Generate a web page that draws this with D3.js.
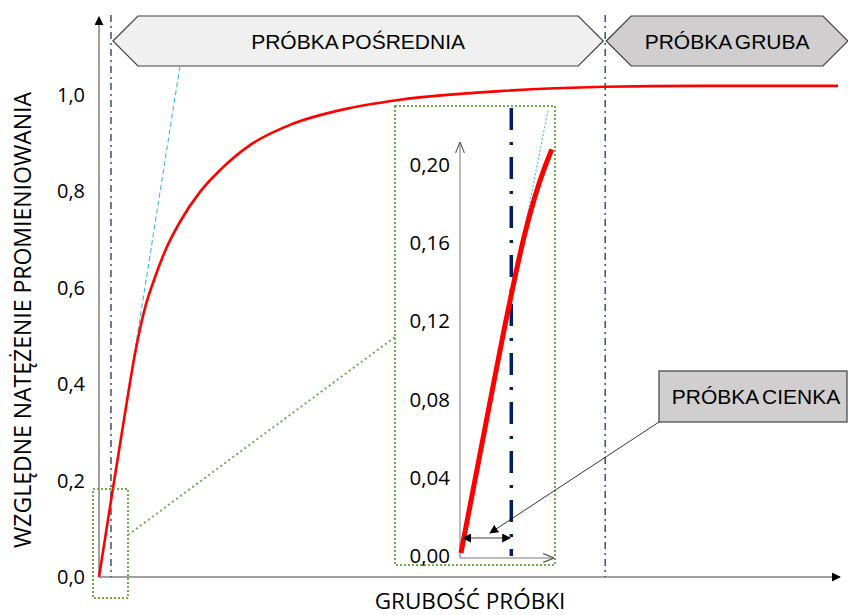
<html>
<head>
<meta charset="utf-8">
<style>
  body { margin: 0; background: white; }
  svg { display: block; }
  .tick text { font-family: "Open Sans", Lato, sans-serif; }
</style>
</head>
<body>
<svg id="chart" width="848" height="615"></svg>
<script src="https://cdn.jsdelivr.net/npm/d3@7"></script>
<script>
// main curve: relative intensity vs thickness (arbitrary units 0..100)
const thickness = [0, 1.62, 3.52, 4.87, 6.22, 7.58, 8.93, 10.96, 13.67, 16.37, 20.43, 25.85, 33.96, 40.73, 54.26, 68.47, 81.33, 100]
const intensity = [0, 0.158, 0.34, 0.463, 0.558, 0.622, 0.676, 0.737, 0.799, 0.844, 0.896, 0.938, 0.973, 0.99, 1.008, 1.017, 1.019, 1.019]
const tangent = [[0, 0], [10.96, 1.06]]
const boundaries = [1.62, 68.5]
const yTicks = [0, 0.2, 0.4, 0.6, 0.8, 1.0]

// zoomed inset (thin sample)
const insetThickness = [0.03, 0.85, 1.42, 1.74, 2.05, 2.37, 2.68, 2.9]
const insetIntensity = [0.0015, 0.0706, 0.118, 0.143, 0.165, 0.184, 0.199, 0.208]
const insetTangent = [[0, 0], [2.78, 0.228]]
const insetTicks = [0, 0.04, 0.08, 0.12, 0.16, 0.20]

const labels = {
  mid: "PRÓBKA POŚREDNIA",
  thick: "PRÓBKA GRUBA",
  thin: "PRÓBKA CIENKA",
  x: "GRUBOŚĆ PRÓBKI",
  y: "WZGLĘDNE NATĘŻENIE PROMIENIOWANIA"
}

let svg = d3.select("#chart")
let defs = svg.append("defs")

function marker(id, filled, color) {
  let m = defs.append("marker").attr("id", id)
    .attr("viewBox", "0 0 10 10").attr("refX", 9).attr("refY", 5)
    .attr("markerUnits", "userSpaceOnUse")
    .attr("markerWidth", filled ? 9 : 11).attr("markerHeight", filled ? 9 : 11)
    .attr("orient", "auto-start-reverse")
  if (filled) m.append("path").attr("d", "M0,0L10,5L0,10Z").attr("fill", color)
  else m.append("path").attr("d", "M0,1L10,5L0,9").attr("fill", "none").attr("stroke", color).attr("stroke-width", 1)
}
marker("arrowFill", true, "#000")
marker("arrowOpen", false, "#555")

let x = d3.scaleLinear().domain([0, 100]).range([99, 838])
let y = d3.scaleLinear().domain([0, 1]).range([577, 95])

let fmt = d => d3.format(".1f")(d).replace(".", ",")
let fmt2 = d => d3.format(".2f")(d).replace(".", ",")

// axes
svg.append("line").attr("x1", x(0)).attr("x2", 840).attr("y1", y(0)).attr("y2", y(0))
  .attr("stroke", "#7f7f7f").attr("stroke-width", 1.5).attr("marker-end", "url(#arrowFill)")
svg.append("line").attr("x1", x(0)).attr("x2", x(0)).attr("y1", y(0)).attr("y2", 17)
  .attr("stroke", "#7f7f7f").attr("stroke-width", 1.5).attr("marker-end", "url(#arrowFill)")

let yAxis = svg.append("g").attr("transform", `translate(${x(0) - 11},0)`)
  .call(d3.axisLeft(y).tickValues(yTicks).tickFormat(fmt).tickSize(0))
yAxis.select(".domain").remove()
yAxis.selectAll("text").attr("font-size", 20).attr("fill", "#000")

svg.append("text").attr("x", 470).attr("y", 609).attr("text-anchor", "middle")
  .attr("font-family", "Open Sans, sans-serif").attr("font-size", 22.5).text(labels.x)
svg.append("text").attr("transform", "translate(31,320) rotate(-90)").attr("text-anchor", "middle")
  .attr("font-family", "Open Sans, sans-serif").attr("font-size", 23).text(labels.y)

// boundaries
svg.selectAll(".bound").data(boundaries).enter().append("line")
  .attr("x1", d => x(d)).attr("x2", d => x(d)).attr("y1", 15).attr("y2", y(0))
  .attr("stroke", "#3b4e78").attr("stroke-width", 1.5).attr("stroke-dasharray", "7,4,2,4")

// banners
function banner(x0, x1, fill, text) {
  let t = 16, b = 66, m = 41, k = 25
  let pts = [[x0, m], [x0 + k, t], [x1 - k, t], [x1, m], [x1 - k, b], [x0 + k, b]]
  svg.append("polygon").attr("points", pts.map(p => p.join(",")).join(" "))
    .attr("fill", fill).attr("stroke", "#404040").attr("stroke-width", 1.2)
  svg.append("text").attr("x", (x0 + x1) / 2).attr("y", m + 7.5).attr("text-anchor", "middle")
    .attr("font-family", "Liberation Sans, Arial, sans-serif").attr("font-size", 21)
    .attr("word-spacing", -2).text(text)
}
banner(x(boundaries[0]) + 2, x(boundaries[1]) - 2, "#f0f0f0", labels.mid)
banner(x(boundaries[1]) + 1, 848, "#d0cece", labels.thick)

// tangent and main curve
let line = d3.line().x(d => x(d[0])).y(d => y(d[1]))
svg.append("path").attr("d", line(tangent)).attr("fill", "none")
  .attr("stroke", "#2ab0ee").attr("stroke-width", 1).attr("stroke-dasharray", "5,3")
svg.append("path").datum(thickness.map((t, i) => [t, intensity[i]]))
  .attr("d", line.curve(d3.curveMonotoneX)).attr("fill", "none")
  .attr("stroke", "#ff0000").attr("stroke-width", 2.6)

// zoom frames
let green = "#70ad47"
svg.append("rect").attr("x", 93).attr("y", 489).attr("width", 35).attr("height", 109)
  .attr("fill", "none").attr("stroke", green).attr("stroke-width", 2).attr("stroke-dasharray", "2,2")
svg.append("line").attr("x1", 128).attr("y1", 535).attr("x2", 395).attr("y2", 337)
  .attr("stroke", green).attr("stroke-width", 2).attr("stroke-dasharray", "2,3")
svg.append("rect").attr("x", 395).attr("y", 106).attr("width", 160).attr("height", 459)
  .attr("fill", "white").attr("stroke", green).attr("stroke-width", 2).attr("stroke-dasharray", "2,2")

// inset
let ix = d3.scaleLinear().domain([0, 3]).range([460, 555])
let iy = d3.scaleLinear().domain([0, 0.2]).range([556, 165])

svg.append("line").attr("x1", ix(0)).attr("x2", ix(0)).attr("y1", 558).attr("y2", 143)
  .attr("stroke", "#777").attr("stroke-width", 1).attr("marker-end", "url(#arrowOpen)")
svg.append("line").attr("x1", ix(0)).attr("x2", 553).attr("y1", 558).attr("y2", 558)
  .attr("stroke", "#777").attr("stroke-width", 1).attr("marker-end", "url(#arrowOpen)")

let iAxis = svg.append("g").attr("transform", `translate(${ix(0) - 7},0)`)
  .call(d3.axisLeft(iy).tickValues(insetTicks).tickFormat(fmt2).tickSize(0))
iAxis.select(".domain").remove()
iAxis.selectAll("text").attr("font-size", 20.5).attr("fill", "#000")

svg.append("line").attr("x1", ix(boundaries[0])).attr("x2", ix(boundaries[0])).attr("y1", 108).attr("y2", 556)
  .attr("stroke", "#002060").attr("stroke-width", 3.5).attr("stroke-dasharray", "22,12,3,12")

let iline = d3.line().x(d => ix(d[0])).y(d => iy(d[1]))
svg.append("path").attr("d", iline(insetTangent)).attr("fill", "none")
  .attr("stroke", "#2ab0ee").attr("stroke-width", 1).attr("stroke-dasharray", "2,2")
svg.append("path").datum(insetThickness.map((t, i) => [t, insetIntensity[i]]))
  .attr("d", iline.curve(d3.curveMonotoneX)).attr("fill", "none")
  .attr("stroke", "#ff0000").attr("stroke-width", 5)

// thickness double arrow
svg.append("line").attr("x1", ix(0) + 3).attr("x2", ix(boundaries[0]) - 1).attr("y1", 538).attr("y2", 538)
  .attr("stroke", "#404040").attr("stroke-width", 1.2)
  .attr("marker-start", "url(#arrowFill)").attr("marker-end", "url(#arrowFill)")

// callout
svg.append("rect").attr("x", 659).attr("y", 371).attr("width", 188).attr("height", 51)
  .attr("fill", "#d0cece").attr("stroke", "#404040").attr("stroke-width", 1.2)
svg.append("text").attr("x", 756).attr("y", 404).attr("text-anchor", "middle")
  .attr("font-family", "Liberation Sans, Arial, sans-serif").attr("font-size", 21)
  .attr("word-spacing", -2).text(labels.thin)
svg.append("line").attr("x1", 659).attr("y1", 422).attr("x2", 490).attr("y2", 533)
  .attr("stroke", "#000").attr("stroke-width", 0.8).attr("marker-end", "url(#arrowFill)")
</script>
</body>
</html>
